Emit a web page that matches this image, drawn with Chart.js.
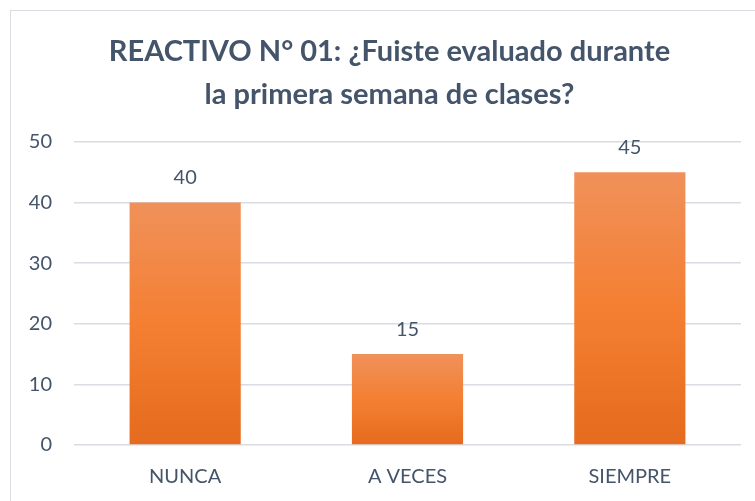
<!DOCTYPE html>
<html>
<head>
<meta charset="utf-8">
<script src="https://cdn.jsdelivr.net/npm/chart.js@4"></script>
<style>
  html, body { margin: 0; padding: 0; background: #fff; }
  #wrap { position: relative; width: 755px; height: 501px; overflow: hidden; }
  #frame { position: absolute; left: 10px; top: 10px; width: 800px; height: 600px;
           border: 1px solid #D9DCE3; pointer-events: none; }
</style>
</head>
<body>
<div id="wrap">
  <canvas id="chart" width="755" height="501"></canvas>
  <div id="frame"></div>
</div>
<script>
// chart data
var categories = ['NUNCA', 'A VECES', 'SIEMPRE'];
var values = [40, 15, 45];
var titleLines = ['REACTIVO N° 01: ¿Fuiste evaluado durante', 'la primera semana de clases?'];

var textColor = '#44546A';
var fontFamily = 'Lato, "Open Sans", sans-serif';

// orange gradient, light on top, darker at the base of each bar
function barGradient(context) {
    var chart = context.chart;
    if (!chart.chartArea || context.type !== 'data') return '#F47F34';
    var y = chart.scales.y;
    var top = y.getPixelForValue(context.raw);
    var bottom = y.getPixelForValue(0);
    var g = chart.ctx.createLinearGradient(0, top, 0, bottom);
    g.addColorStop(0, '#F0915A');
    g.addColorStop(0.5, '#F47F32');
    g.addColorStop(1, '#E56B1E');
    return g;
}

// value labels above the bars
var valueLabels = {
    id: 'valueLabels',
    afterDatasetsDraw: function(chart) {
        var ctx = chart.ctx;
        var meta = chart.getDatasetMeta(0);
        ctx.save();
        ctx.font = '20px ' + fontFamily;
        ctx.fillStyle = textColor;
        ctx.textAlign = 'center';
        ctx.textBaseline = 'middle';
        meta.data.forEach(function(bar, i) {
            ctx.fillText(String(values[i]), bar.x, bar.y - 25);
        });
        ctx.restore();
    }
};

// the original frame is wider than the picture, so its title sits right of centre
var shiftTitle = {
    id: 'shiftTitle',
    afterLayout: function(chart) {
        if (chart.titleBlock) chart.titleBlock.left = 38;
    }
};

new Chart(document.getElementById('chart'), {
    type: 'bar',
    data: {
        labels: categories,
        datasets: [{
            data: values,
            backgroundColor: barGradient,
            borderWidth: 0,
            categoryPercentage: 1,
            barPercentage: 0.5
        }]
    },
    options: {
        responsive: false,
        animation: false,
        layout: { padding: { left: 0, right: 14, top: 0, bottom: 0 } },
        plugins: {
            legend: { display: false },
            tooltip: { enabled: false },
            title: {
                display: true,
                text: titleLines,
                color: textColor,
                font: { family: fontFamily, size: 29, weight: 'bold', lineHeight: 1.48 },
                padding: { top: 30, bottom: 26 }
            }
        },
        scales: {
            x: {
                grid: { display: false, drawTicks: false },
                border: { display: false },
                ticks: { color: textColor, font: { family: fontFamily, size: 20 }, padding: 20 },
                afterFit: function(scale) { scale.height = 56; }
            },
            y: {
                min: 0,
                max: 50,
                ticks: { stepSize: 10, color: textColor, font: { family: fontFamily, size: 20 }, padding: 22 },
                grid: { color: '#D9DCE3', lineWidth: 1.5, drawTicks: false },
                border: { display: false },
                afterFit: function(scale) { scale.width = 74; }
            }
        }
    },
    plugins: [valueLabels, shiftTitle]
});
</script>
</body>
</html>
